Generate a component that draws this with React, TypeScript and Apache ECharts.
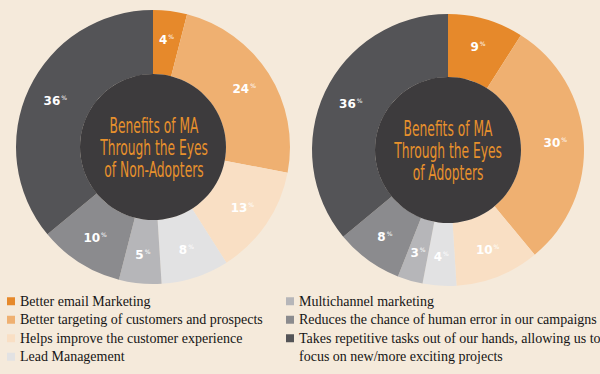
import React, { useEffect, useRef } from "react";
import * as echarts from "echarts";

const categories = [
  "Better email Marketing",
  "Better targeting of customers and prospects",
  "Helps improve the customer experience",
  "Lead Management",
  "Multichannel marketing",
  "Reduces the chance of human error in our campaigns",
  "Takes repetitive tasks out of our hands, allowing us to focus on new/more exciting projects",
];
const lastLegendLines = [
  "Takes repetitive tasks out of our hands, allowing us to",
  "focus on new/more exciting projects",
];
const nonAdopters = [4, 24, 13, 8, 5, 10, 36];
const adopters = [9, 30, 10, 4, 3, 8, 36];
const colors = ["#e6892b", "#efb071", "#f9dfc4", "#e2e2e3", "#b6b6b9", "#8b8b8e", "#545457"];
const titleNon = "Benefits of MA\nThrough the Eyes\nof Non-Adopters";
const titleAd = "Benefits of MA\nThrough the Eyes\nof Adopters";

const BG = "#f5eadb";
const DISC = "#3d3b3d";
const TITLE_COLOR = "#e8912c";

export default function App() {
  const ref = useRef<HTMLDivElement>(null);
  useEffect(() => {
    document.body.style.margin = "0";
    const chart = echarts.init(ref.current!, undefined, { renderer: "svg" });
    const mk = (vals: number[]) =>
      vals.map((v, i) => ({ name: categories[i], value: v, itemStyle: { color: colors[i] } }));
    const label = {
      show: true,
      position: "inside",
      formatter: (p: any) => `{v|${p.value}}{p|%}`,
      rich: {
        v: { fontSize: 12, fontWeight: "bold", fontFamily: "DejaVu Sans", color: "#ffffff", lineHeight: 13 },
        p: { fontSize: 6, fontFamily: "DejaVu Sans", color: "#ffffff", verticalAlign: "top", lineHeight: 13, padding: [0, 0, 0, 1] },
      },
    };
    const ringSeries = (center: number[], r0: number, r: number, vals: number[]) => ({
      type: "pie",
      center,
      radius: [r0, r],
      startAngle: 90,
      clockwise: true,
      data: mk(vals),
      label,
      labelLine: { show: false },
      emphasis: { disabled: true },
    });
    const discSeries = (center: number[], r: number) => ({
      type: "pie",
      center,
      radius: [0, r],
      silent: true,
      data: [{ name: "__disc", value: 1, itemStyle: { color: DISC } }],
      label: { show: false },
      labelLine: { show: false },
      legendHoverLink: false,
    });
    const legendText = {
      fontFamily: "Liberation Serif",
      fontSize: 14,
      color: "#151515",
      lineHeight: 18.5,
    };
    const titleText = (x: number, y: number, text: string) => ({
      type: "text",
      x,
      y,
      scaleX: 0.62,
      z: 100,
      style: {
        text,
        fill: TITLE_COLOR,
        font: "22px 'DejaVu Sans Condensed', 'DejaVu Sans', sans-serif",
        align: "center",
        verticalAlign: "middle",
        lineHeight: 22,
      },
    });
    const legendBase = {
      orient: "vertical",
      padding: 0,
      itemGap: 0,
      itemWidth: 8,
      itemHeight: 8,
      icon: "rect",
      selectedMode: false,
      textStyle: legendText,
    };
    chart.setOption({
      animation: false,
      backgroundColor: BG,
      legend: [
        { ...legendBase, left: 7, top: 292, data: categories.slice(0, 4) },
        { ...legendBase, left: 286, top: 292, data: categories.slice(4, 6) },
        {
          ...legendBase,
          left: 286,
          top: 329,
          data: categories.slice(6, 7),
          formatter: () => lastLegendLines[0],
        },
      ],
      series: [
        ringSeries([153, 147], 73, 137, nonAdopters),
        discSeries([153, 147], 73),
        ringSeries([448, 150], 73, 136, adopters),
        discSeries([448, 150], 73),
      ],
      graphic: [
        titleText(154, 147, titleNon),
        titleText(448, 150, titleAd),
        {
          type: "text",
          left: 299,
          top: 349,
          style: {
            text: lastLegendLines[1],
            fill: legendText.color,
            font: "14px 'Liberation Serif'",
          },
        },
      ],
    });
    return () => chart.dispose();
  }, []);
  return <div ref={ref} style={{ width: 600, height: 374 }} />;
}
